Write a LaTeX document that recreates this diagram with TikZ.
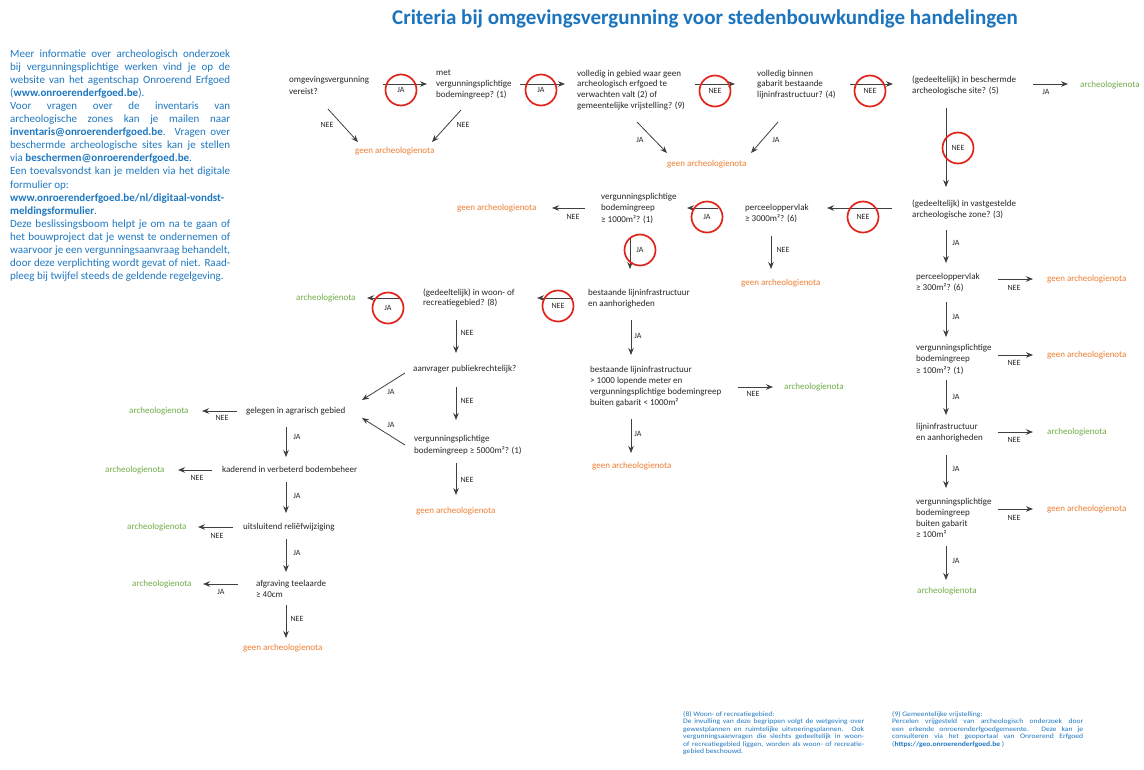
\documentclass[tikz,border=0pt]{standalone}
\usepackage{fontspec}
\setmainfont{Carlito}
\newfontfamily\footfont[FakeStretch=1.12]{Carlito}
\usetikzlibrary{arrows.meta}
\definecolor{txt}{HTML}{262626}
\definecolor{org}{HTML}{ED7D31}
\definecolor{grn}{HTML}{70AD47}
\definecolor{blu}{HTML}{1F78C1}
\definecolor{ttl}{HTML}{1B74BE}
\definecolor{rd}{HTML}{E2231A}
\definecolor{arrc}{HTML}{404040}
\newcommand\jline[2]{\makebox[#1][s]{#2}}
\newcommand\ml[1]{\begin{tabular}[t]{@{}l@{}}#1\end{tabular}}
\begin{document}
\begin{tikzpicture}[x=1pt,y=-1pt,
  qbox/.style={anchor=base west, inner sep=0pt, text=txt, font=\fontsize{9}{10.8}\selectfont},
  negbox/.style={anchor=base west, inner sep=0pt, text=org, font=\fontsize{9}{10.8}\selectfont},
  posbox/.style={anchor=base west, inner sep=0pt, text=grn, font=\fontsize{9}{10.8}\selectfont},
  lbl/.style={inner sep=0pt, text=txt, font=\fontsize{8}{9.6}\selectfont},
  ring/.style={circle, draw=rd, line width=1.7pt, minimum size=31pt, inner sep=0pt, text=txt, font=\fontsize{8}{9.6}\selectfont},
  arr/.style={draw=arrc, line width=0.8pt, -{Stealth[length=7pt,width=5.5pt]}},
  fnote/.style={anchor=base west, inner sep=0pt, text=blu, font=\footfont\fontsize{6.8}{7.5}\selectfont}
]
\fill[white] (0,0) rectangle (1144,769);
\useasboundingbox (0,0) rectangle (1144,769);

% title
\node[inner sep=0pt, text=ttl, font=\bfseries\fontsize{21}{25}\selectfont] (title) at (705,19) {Criteria bij omgevingsvergunning voor stedenbouwkundige handelingen};

% info text
\node[anchor=base west, inner sep=0pt, text=blu, font=\fontsize{11}{13.1}\selectfont] (info) at (10,57) {\ml{%
\jline{220pt}{Meer informatie over archeologisch onderzoek}\\
\jline{220pt}{bij vergunningsplichtige werken vind je op de}\\
\jline{220pt}{website van het agentschap Onroerend Erfgoed}\\
(\textbf{www.onroerenderfgoed.be}).\\
\jline{220pt}{Voor vragen over de inventaris van}\\
\jline{220pt}{archeologische zones kan je mailen naar}\\
\jline{220pt}{\textbf{inventaris@onroerenderfgoed.be}. Vragen over}\\
\jline{220pt}{beschermde archeologische sites kan je stellen}\\
via \textbf{beschermen@onroerenderfgoed.be}.\\
\jline{220pt}{Een toevalsvondst kan je melden via het digitale}\\
formulier op:\\
\textbf{www.onroerenderfgoed.be/nl/digitaal-vondst-}\\
\textbf{meldingsformulier}.\\
\jline{220pt}{Deze beslissingsboom helpt je om na te gaan of}\\
\jline{220pt}{het bouwproject dat je wenst te ondernemen of}\\
\jline{220pt}{waarvoor je een vergunningsaanvraag behandelt,}\\
\jline{220pt}{door deze verplichting wordt gevat of niet. Raad-}\\
pleeg bij twijfel steeds de geldende regelgeving.}};

% decision nodes
\node[qbox, font=\fontsize{9}{12.5}\selectfont] (A) at (289,82) {\ml{omgevingsvergunning\\vereist?}};
\node[qbox] (B) at (436,75.5) {\ml{met\\vergunningsplichtige\\bodemingreep? (1)}};
\node[qbox] (C) at (577,76) {\ml{volledig in gebied waar geen\\archeologisch erfgoed te\\verwachten valt (2) of\\gemeentelijke vrijstelling? (9)}};
\node[qbox] (D) at (757,76) {\ml{volledig binnen\\gabarit bestaande\\lijninfrastructuur? (4)}};
\node[qbox, font=\fontsize{9}{11.5}\selectfont] (E) at (912,82) {\ml{(gedeeltelijk) in beschermde\\archeologische site? (5)}};
\node[posbox] (arch1) at (1080,87) {archeologienota};
\node[negbox] (geen1) at (355,153) {geen archeologienota};
\node[negbox] (geen2) at (667,166) {geen archeologienota};
\node[negbox] (geen3) at (457,210) {geen archeologienota};
\node[qbox, font=\fontsize{9}{11.5}\selectfont] (F) at (601,199) {\ml{vergunningsplichtige\\bodemingreep\\≥ 1000m²? (1)}};
\node[qbox, font=\fontsize{9}{11}\selectfont] (G) at (745,210) {\ml{perceeloppervlak\\≥ 3000m²? (6)}};
\node[qbox, font=\fontsize{9}{11}\selectfont] (E2) at (912,206) {\ml{(gedeeltelijk) in vastgestelde\\archeologische zone? (3)}};
\node[negbox] (geen4) at (741,285) {geen archeologienota};
\node[posbox] (archL) at (296,300) {archeologienota};
\node[qbox, font=\fontsize{9}{10.5}\selectfont] (L) at (423,295) {\ml{(gedeeltelijk) in woon- of\\recreatiegebied? (8)}};
\node[qbox, font=\fontsize{9}{11}\selectfont] (M) at (588,295) {\ml{bestaande lijninfrastructuur\\en aanhorigheden}};
\node[qbox, font=\fontsize{9}{11}\selectfont] (H) at (916,279) {\ml{perceeloppervlak\\≥ 300m²? (6)}};
\node[negbox] (geen5) at (1047,281) {geen archeologienota};
\node[qbox] (N) at (413,371) {aanvrager publiekrechtelijk?};
\node[qbox, font=\fontsize{9}{11}\selectfont] (Q) at (590,372) {\ml{bestaande lijninfrastructuur\\> 1000 lopende meter en\\vergunningsplichtige bodemingreep\\buiten gabarit < 1000m²}};
\node[posbox] (archQ) at (784,389) {archeologienota};
\node[qbox, font=\fontsize{9}{11.5}\selectfont] (I) at (916,350) {\ml{vergunningsplichtige\\bodemingreep\\≥ 100m²? (1)}};
\node[negbox] (geen6) at (1047,357) {geen archeologienota};
\node[qbox, font=\fontsize{9}{12}\selectfont] (O) at (414,441) {\ml{vergunningsplichtige\\bodemingreep ≥ 5000m²? (1)}};
\node[qbox] (P) at (246,413) {gelegen in agrarisch gebied};
\node[posbox] (archP) at (129,413) {archeologienota};
\node[qbox, font=\fontsize{9}{11}\selectfont] (J) at (916,429) {\ml{lijninfrastructuur\\en aanhorigheden}};
\node[posbox] (archJ) at (1047,434) {archeologienota};
\node[negbox] (geen7) at (592,468) {geen archeologienota};
\node[negbox] (geen8) at (416,513) {geen archeologienota};
\node[qbox] (R) at (222,472) {kaderend in verbeterd bodembeheer};
\node[posbox] (archR) at (105,472) {archeologienota};
\node[qbox, font=\fontsize{9}{11.3}\selectfont] (K) at (916,504) {\ml{vergunningsplichtige\\bodemingreep\\buiten gabarit\\≥ 100m²}};
\node[negbox] (geen9) at (1047,511) {geen archeologienota};
\node[qbox] (S) at (243,529) {uitsluitend reliëfwijziging};
\node[posbox] (archS) at (127,529) {archeologienota};
\node[qbox, font=\fontsize{9}{11}\selectfont] (T) at (256,586) {\ml{afgraving teelaarde\\≥ 40cm}};
\node[posbox] (archT) at (132,586) {archeologienota};
\node[posbox] (archK) at (917,593) {archeologienota};
\node[negbox] (geen10) at (243,650) {geen archeologienota};

% connectors
\draw[arr] ([shift={(94,2)}]A.base west) -- ([shift={(-9,8.5)}]B.base west);
\draw[arr] ([shift={(84,8.5)}]B.base west) -- ([shift={(-12,8)}]C.base west);
\draw[arr] ([shift={(118,8)}]C.base west) -- ([shift={(-22,8)}]D.base west);
\draw[arr] ([shift={(93,8)}]D.base west) -- ([shift={(-19,2)}]E.base west);
\draw[arr] ([shift={(121,2)}]E.base west) -- ([shift={(-12,-3)}]arch1.base west);
\draw[arr] ([shift={(34,26)}]E.base west) -- ([shift={(34,-19)}]E2.base west);
\draw[arr] ([shift={(39,27)}]A.base west) -- ([shift={(3,-11)}]geen1.base west);
\draw[arr] ([shift={(25,34.5)}]B.base west) -- ([shift={(77,-11)}]geen1.base west);
\draw[arr] ([shift={(60,46)}]C.base west) -- ([shift={(0,-13)}]geen2.base west);
\draw[arr] ([shift={(21,46)}]D.base west) -- ([shift={(84,-13)}]geen2.base west);
\draw[arr] ([shift={(-20,2)}]E2.base west) -- ([shift={(82,-2)}]G.base west);
\draw[arr] ([shift={(-27,-2)}]G.base west) -- ([shift={(86,9)}]F.base west);
\draw[arr] ([shift={(-16,9)}]F.base west) -- ([shift={(95,-2)}]geen3.base west);
\draw[arr] ([shift={(29,38)}]F.base west) -- ([shift={(42,-26)}]M.base west);
\draw[arr] ([shift={(26,26)}]G.base west) -- ([shift={(30,-16)}]geen4.base west);
\draw[arr] ([shift={(-15,3)}]M.base west) -- ([shift={(114,3)}]L.base west);
\draw[arr] ([shift={(-23,3)}]L.base west) -- ([shift={(71,-2)}]archL.base west);
\draw[arr] ([shift={(33,25)}]L.base west) -- ([shift={(43,-18)}]N.base west);
\draw[arr] ([shift={(43,16)}]N.base west) -- ([shift={(42,-21)}]O.base west);
\draw[arr] ([shift={(-8,2)}]N.base west) -- ([shift={(116,-13)}]P.base west);
\draw[arr] ([shift={(-9,4)}]O.base west) -- ([shift={(116,5)}]P.base west);
\draw[arr] ([shift={(42,22)}]O.base west) -- ([shift={(40,-18)}]geen8.base west);
\draw[arr] ([shift={(43,25)}]M.base west) -- ([shift={(41,-17)}]Q.base west);
\draw[arr] ([shift={(148,15)}]Q.base west) -- ([shift={(-11,-2)}]archQ.base west);
\draw[arr] ([shift={(41,47)}]Q.base west) -- ([shift={(39,-15)}]geen7.base west);
\draw[arr] ([shift={(34,24)}]E2.base west) -- ([shift={(30,-16)}]H.base west);
\draw[arr] ([shift={(82,0)}]H.base west) -- ([shift={(-14,-2)}]geen5.base west);
\draw[arr] ([shift={(30,23)}]H.base west) -- ([shift={(30,-13)}]I.base west);
\draw[arr] ([shift={(82,5)}]I.base west) -- ([shift={(-14,-2)}]geen6.base west);
\draw[arr] ([shift={(30,30)}]I.base west) -- ([shift={(30,-14)}]J.base west);
\draw[arr] ([shift={(82,3)}]J.base west) -- ([shift={(-14,-2)}]archJ.base west);
\draw[arr] ([shift={(30,26)}]J.base west) -- ([shift={(30,-16)}]K.base west);
\draw[arr] ([shift={(82,5)}]K.base west) -- ([shift={(-14,-2)}]geen9.base west);
\draw[arr] ([shift={(30,42)}]K.base west) -- ([shift={(29,-13)}]archK.base west);
\draw[arr] ([shift={(-9,-2)}]P.base west) -- ([shift={(73,-2)}]archP.base west);
\draw[arr] ([shift={(40,14)}]P.base west) -- ([shift={(64,-15)}]R.base west);
\draw[arr] ([shift={(-10,-2)}]R.base west) -- ([shift={(73,-2)}]archR.base west);
\draw[arr] ([shift={(64,10)}]R.base west) -- ([shift={(43,-16)}]S.base west);
\draw[arr] ([shift={(-10,-2)}]S.base west) -- ([shift={(71,-2)}]archS.base west);
\draw[arr] ([shift={(43,10)}]S.base west) -- ([shift={(30,-14)}]T.base west);
\draw[arr] ([shift={(-18,-2)}]T.base west) -- ([shift={(71,-2)}]archT.base west);
\draw[arr] ([shift={(30,19)}]T.base west) -- ([shift={(43,-12)}]geen10.base west);

% circled labels
\node[ring] (c1) at (401,90) {JA};
\node[ring] (c2) at (541,90) {JA};
\node[ring] (c3) at (715,91) {NEE};
\node[ring] (c4) at (870,91) {NEE};
\node[ring] (c5) at (958,148) {NEE};
\node[ring] (c6) at (863,217) {NEE};
\node[ring] (c7) at (707,217) {JA};
\node[ring] (c8) at (640,250) {JA};
\node[ring] (c9) at (558,306) {NEE};
\node[ring] (c10) at (388,308) {JA};

% plain labels
\node[lbl] (l5) at (1046,92) {JA};
\node[lbl] (l7) at (327,125) {NEE};
\node[lbl] (l8) at (463,125) {NEE};
\node[lbl] (l9) at (640,140) {JA};
\node[lbl] (l10) at (776,140) {JA};
\node[lbl] (l13) at (573,217) {NEE};
\node[lbl] (l15) at (783,250) {NEE};
\node[lbl] (l18) at (467,333) {NEE};
\node[lbl] (l19) at (467,401) {NEE};
\node[lbl] (l20) at (391,392) {JA};
\node[lbl] (l21) at (391,425) {JA};
\node[lbl] (l22) at (467,480) {NEE};
\node[lbl] (l23) at (638,336) {JA};
\node[lbl] (l24) at (753,394) {NEE};
\node[lbl] (l25) at (638,434) {JA};
\node[lbl] (l26) at (956,243) {JA};
\node[lbl] (l27) at (1014,288) {NEE};
\node[lbl] (l28) at (956,317) {JA};
\node[lbl] (l29) at (1014,363) {NEE};
\node[lbl] (l30) at (956,397) {JA};
\node[lbl] (l31) at (1014,440) {NEE};
\node[lbl] (l32) at (956,469) {JA};
\node[lbl] (l33) at (1014,518) {NEE};
\node[lbl] (l34) at (956,561) {JA};
\node[lbl] (l35) at (222,418) {NEE};
\node[lbl] (l36) at (297,437) {JA};
\node[lbl] (l37) at (197,478) {NEE};
\node[lbl] (l38) at (297,496) {JA};
\node[lbl] (l39) at (217,536) {NEE};
\node[lbl] (l40) at (297,553) {JA};
\node[lbl] (l41) at (221,592) {JA};
\node[lbl] (l42) at (297,619) {NEE};

% footnotes
\node[fnote] (fn8) at (683,716) {\ml{%
(8) Woon- of recreatiegebied:\\
\jline{181pt}{De invulling van deze begrippen volgt de wetgeving over}\\
\jline{181pt}{gewestplannen en ruimtelijke uitvoeringsplannen. Ook}\\
\jline{181pt}{vergunningsaanvragen die slechts gedeeltelijk in woon-}\\
\jline{181pt}{of recreatiegebied liggen, worden als woon- of recreatie-}\\
gebied beschouwd.}};
\node[fnote] (fn9) at (892,716) {\ml{%
(9) Gemeentelijke vrijstelling:\\
\jline{191pt}{Percelen vrijgesteld van archeologisch onderzoek door}\\
\jline{191pt}{een erkende onroerenderfgoedgemeente. Deze kan je}\\
\jline{191pt}{consulteren via het geoportaal van Onroerend Erfgoed}\\
(\textbf{https://geo.onroerenderfgoed.be} )}};
\end{tikzpicture}
\end{document}
